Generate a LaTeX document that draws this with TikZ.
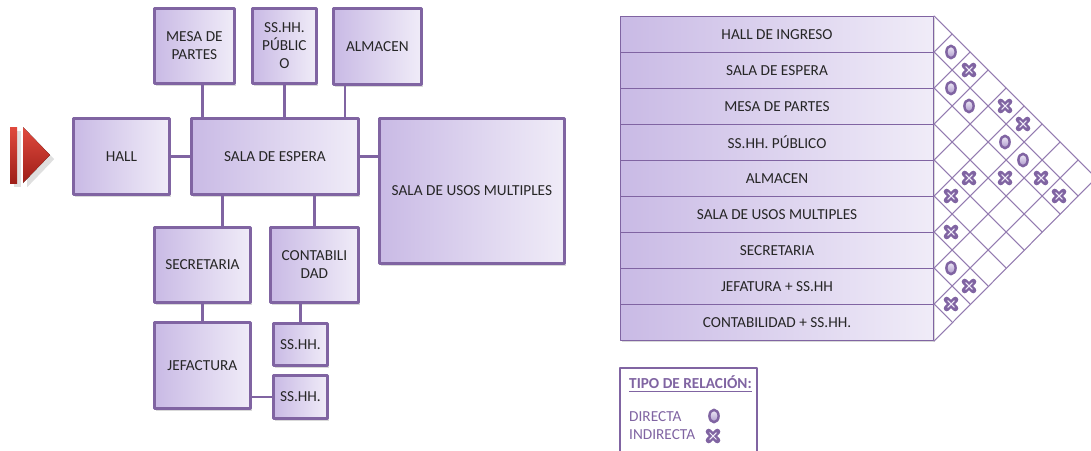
\documentclass[tikz,border=0pt]{standalone}
\usepackage{fontspec}
\setmainfont{Carlito}
\usetikzlibrary{shadows}
\definecolor{lila}{HTML}{8064A2}
\definecolor{lilaL}{HTML}{C9BAE5}
\definecolor{lilaR}{HTML}{F0ECF8}
\definecolor{rojo}{HTML}{E04A3E}
\definecolor{rojoD}{HTML}{9E1E18}
\begin{document}
\begin{tikzpicture}[x=0.02cm, y=-0.02cm, font=\fontsize{8.7}{10.3}\selectfont, line cap=round, line join=round,
  room/.style={draw=lila, line width=1.6pt, left color=lilaL, right color=lilaR, text=black!85, align=center, inner sep=0pt, anchor=north west, drop shadow={shadow xshift=1pt, shadow yshift=-1.2pt, opacity=0.3}},
  link/.style={draw=lila, line width=1.6pt},
  fila/.style={draw=lila, line width=0.6pt, left color=lilaL, right color=lilaR, text=black!85, inner sep=0pt, anchor=north west, minimum width=313*\px, minimum height=36*\px},
  rejilla/.style={draw=lila!85, line width=0.6pt},
  directa/.pic={\draw[lila, line width=1.4pt, top color=lilaR, bottom color=lilaL!60!lila] (0,0) ellipse (4.6 and 6.2);},
  indirecta/.pic={\draw[lila, line width=3.4pt] (-4.3,-4.3)--(4.3,4.3) (-4.3,4.3)--(4.3,-4.3);
    \draw[lilaR, line width=0.6pt] (-3.2,-3.2)--(3.2,3.2) (-3.2,3.2)--(3.2,-3.2);}]
\def\px{0.02cm}
\useasboundingbox (0,0) rectangle (1091,450);
% icono
\fill[top color=rojo, bottom color=rojoD, drop shadow={opacity=0.25}] (10,127) rectangle (17,183);
\fill[top color=rojo, bottom color=rojoD, drop shadow={opacity=0.25}] (23,127) -- (50,155) -- (23,183) -- cycle;
% ambientes
\node[room, minimum width=96*\px, minimum height=76*\px] (hall) at (72,117) {HALL};
\node[room, minimum width=167*\px, minimum height=76*\px] (sala) at (190,117) {SALA DE ESPERA};
\node[room, minimum width=80*\px, minimum height=75*\px] (mesa) at (153,7) {MESA DE\\PARTES};
\node[room, minimum width=64*\px, minimum height=75*\px] (pub) at (251,7) {SS.HH.\\PÚBLIC\\O};
\node[room, minimum width=88*\px, minimum height=76*\px] (alm) at (332,7) {ALMACEN};
\node[room, minimum width=185*\px, minimum height=145*\px] (usos) at (378,117) {SALA DE USOS MULTIPLES};
\node[room, minimum width=96*\px, minimum height=75*\px] (secr) at (153,226) {SECRETARIA};
\node[room, minimum width=88*\px, minimum height=75*\px] (conta) at (269,226) {CONTABILI\\DAD};
\node[room, minimum width=96*\px, minimum height=86*\px] (jef) at (153,321) {JEFACTURA};
\node[room, minimum width=54*\px, minimum height=42*\px] (bano1) at (272,322) {SS.HH.};
\node[room, minimum width=54*\px, minimum height=43*\px] (bano2) at (272,374) {SS.HH.};
% conexiones
\draw[link] (hall.east) -- (sala.west) (sala.east) -- (sala.east -| usos.west);
\draw[link] ([xshift=8*\px]mesa.south) -- ([xshift=8*\px]mesa.south |- sala.north);
\draw[link] (pub.south) -- (pub.south |- sala.north);
\draw[link] ([xshift=13*\px]alm.south west) -- ([xshift=13*\px]alm.south west |- sala.north);
\draw[link] ([xshift=20*\px]secr.north) -- ([xshift=20*\px]secr.north |- sala.south);
\draw[link] (conta.north) -- (conta.north |- sala.south);
\draw[link] (secr.south) -- (jef.north) (bano1.north) -- (bano1.north |- conta.south);
\draw[link] (bano2.west) -- (bano2.west -| jef.east);
% matriz de relaciones
\fill[white, drop shadow={shadow xshift=1pt, shadow yshift=-1.2pt, opacity=0.3}] (620,16) rectangle (933,340);
\foreach \t [count=\i from 0] in {HALL DE INGRESO, SALA DE ESPERA, MESA DE PARTES, SS.HH. PÚBLICO, ALMACEN, SALA DE USOS MULTIPLES, SECRETARIA, JEFATURA + SS.HH, CONTABILIDAD + SS.HH.}
  \node[fila] (f\i) at (620,{16+36*\i}) {\t};
\draw[rejilla] (f0.north east) -- ++(162,162) -- (f8.south east);
\foreach \k in {1,...,8}
  \draw[rejilla] (f\k.north east) -- ++({18*(9-\k)},{18*(9-\k)}) (f\k.north east) -- ++({18*\k},{-18*\k});
\foreach \i/\j in {0/1,1/2,1/3,1/5,1/6,6/7}
  \pic at ({933+18*(\j-\i)},{16+18*(\i+\j+1)}) {directa};
\foreach \i/\j in {0/2,0/4,0/5,1/7,1/8,2/6,3/5,4/5,5/6,6/8,7/8}
  \pic at ({933+18*(\j-\i)},{16+18*(\i+\j+1)}) {indirecta};
% leyenda
\draw[lila, line width=0.6pt] (620,460) -- (620,368) -- (757,368) -- (757,460);
\node[anchor=west, text=lila, font=\fontsize{8.7}{10.3}\selectfont\bfseries] (tipo) at (623,384) {\underline{TIPO DE RELACIÓN:}};
\node[anchor=west, text=lila] (dir) at (623,417) {DIRECTA};
\node[anchor=west, text=lila] (ind) at (623,435) {INDIRECTA};
\pic at (714,416) {directa};
\pic at (713,436) {indirecta};
\end{tikzpicture}
\end{document}
